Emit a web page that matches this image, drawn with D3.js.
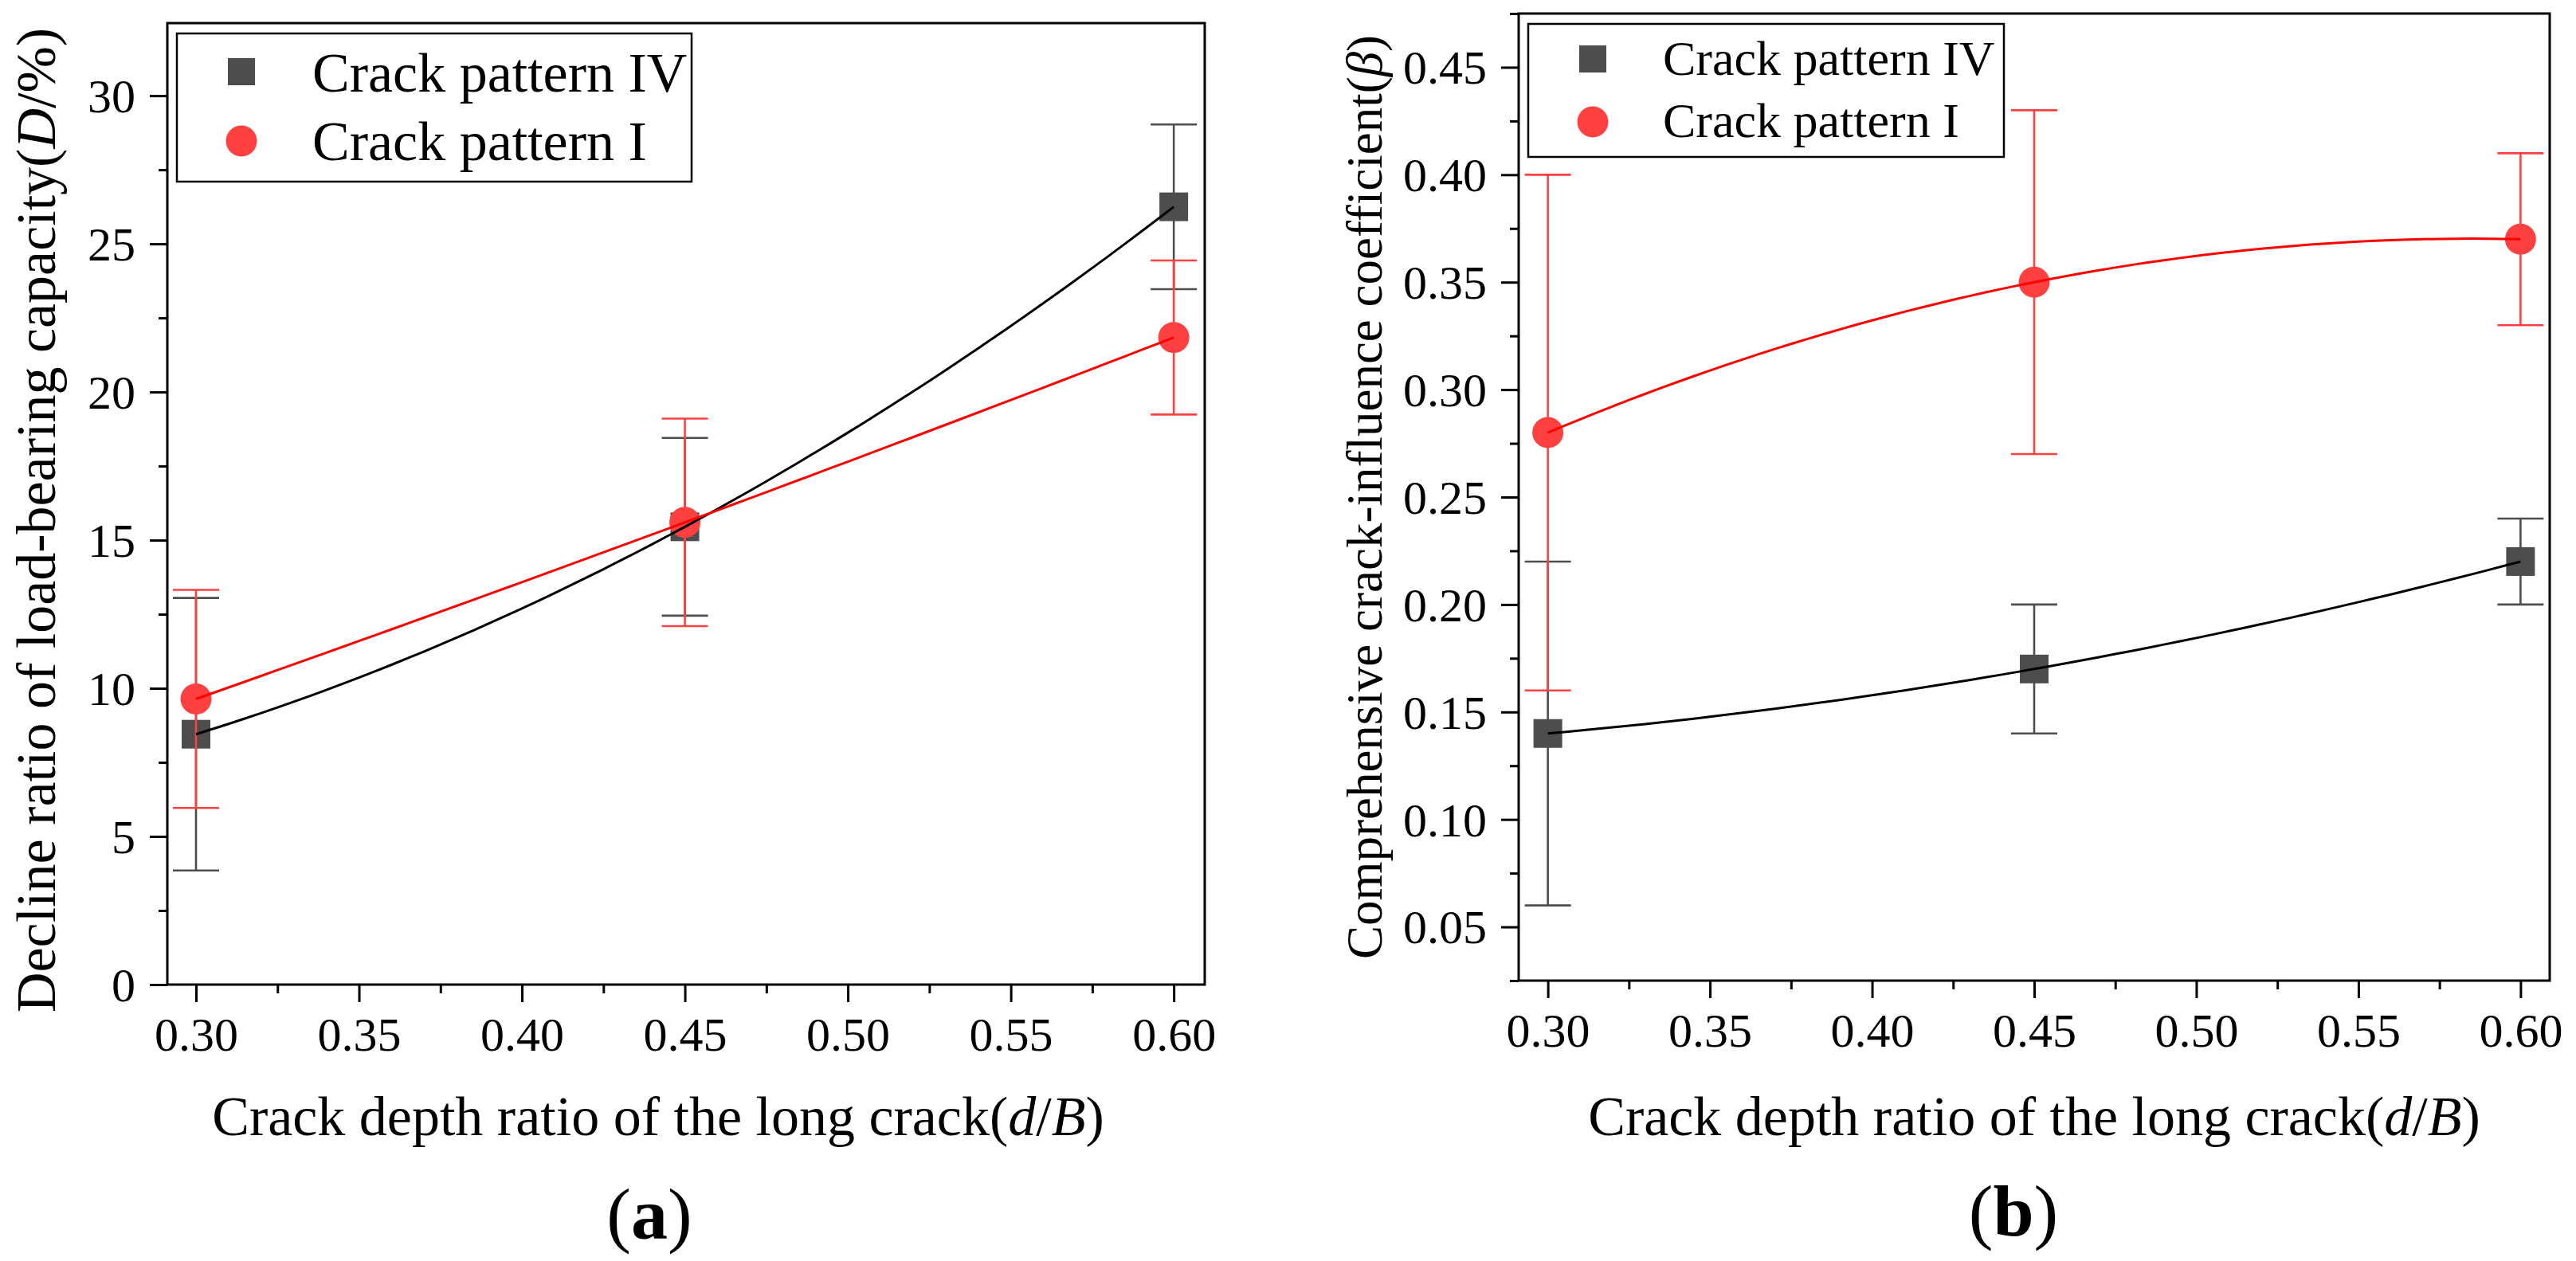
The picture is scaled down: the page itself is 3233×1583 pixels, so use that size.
<!DOCTYPE html>
<html>
<head>
<meta charset="utf-8">
<script src="https://cdn.jsdelivr.net/npm/d3@7"></script>
<style>
body { margin: 0; background: #fff; }
svg text { font-family: 'Liberation Serif', 'Times New Roman', Times, 'DejaVu Serif', serif !important; fill: #000; }
</style>
</head>
<body>
<div id="chart"></div>
<script>
// data
var depthRatio = [0.30, 0.45, 0.60];
var seriesNames = ['Crack pattern IV', 'Crack pattern I'];

var declineIV = [8.45, 15.45, 26.25];
var declineIVErr = [4.6, 3.0, 2.78];
var declineI = [9.64, 15.6, 21.84];
var declineIErr = [3.68, 3.5, 2.6];

var betaIV = [0.14, 0.17, 0.22];
var betaIVErr = [0.08, 0.03, 0.02];
var betaI = [0.28, 0.35, 0.37];
var betaIErr = [0.12, 0.08, 0.04];

var xTicks = [0.30, 0.35, 0.40, 0.45, 0.50, 0.55, 0.60];
var xMinor = [0.325, 0.375, 0.425, 0.475, 0.525, 0.575];
var declineTicks = [0, 5, 10, 15, 20, 25, 30];
var declineMinor = [2.5, 7.5, 12.5, 17.5, 22.5, 27.5];
var betaTicks = [0.05, 0.10, 0.15, 0.20, 0.25, 0.30, 0.35, 0.40, 0.45];
var betaMinor = [0.025, 0.075, 0.125, 0.175, 0.225, 0.275, 0.325, 0.375, 0.425, 0.475];

var grey = '#4d4d4d', red = '#ff4040';
var serif = "'Liberation Serif', 'Times New Roman', Times, 'DejaVu Serif', serif";

var svg = d3.select('#chart').append('svg')
    .attr('width', 3233).attr('height', 1583)
    .attr('font-family', serif)
    .style('display', 'block');

// 3-point quadratic (the fitted curve shown in the figure)
function quadFit(xs, ys) {
    return function (t) {
        var s = 0;
        for (var i = 0; i < 3; i++) {
            var l = 1;
            for (var j = 0; j < 3; j++) if (j != i) l *= (t - xs[j]) / (xs[i] - xs[j]);
            s += ys[i] * l;
        }
        return s;
    };
}

function panel(p) {
    var x = d3.scaleLinear().domain(p.xDomain).range([p.left, p.right]);
    var y = d3.scaleLinear().domain(p.yDomain).range([p.bottom, p.top]);
    var g = svg.append('g');

    // frame
    g.append('rect')
        .attr('x', p.left).attr('y', p.top)
        .attr('width', p.right - p.left).attr('height', p.bottom - p.top)
        .attr('fill', 'none').attr('stroke', '#000').attr('stroke-width', 3);

    // axes
    g.append('g').attr('transform', `translate(0,${p.bottom})`)
        .call(d3.axisBottom(x).tickValues(xTicks).tickSize(22).tickPadding(18).tickFormat(d3.format('.2f')));
    g.append('g').attr('transform', `translate(0,${p.bottom})`)
        .call(d3.axisBottom(x).tickValues(xMinor).tickSize(11).tickFormat(''));
    var yAx = g.append('g').attr('transform', `translate(${p.left},0)`)
        .call(d3.axisLeft(y).tickValues(p.yTicks).tickSize(22).tickPadding(18).tickFormat(p.yFormat));
    g.append('g').attr('transform', `translate(${p.left},0)`)
        .call(d3.axisLeft(y).tickValues(p.yMinor).tickSize(11).tickFormat(''));
    g.selectAll('.domain').remove();
    g.selectAll('.tick line').attr('stroke', '#000').attr('stroke-width', 3);
    g.selectAll('g').attr('font-family', serif).attr('font-size', 60);
    g.selectAll('.tick text').attr('fill', '#000').style('font-family', serif);
    yAx.selectAll('.tick text').attr('dy', '0.34em');

    // error bars and markers
    p.series.forEach(function (s) {
        depthRatio.forEach(function (d, i) {
            var cx = x(d), lo = y(s.values[i] - s.err[i]), hi = y(s.values[i] + s.err[i]);
            g.append('line').attr('x1', cx).attr('x2', cx).attr('y1', lo).attr('y2', hi)
                .attr('stroke', s.color).attr('stroke-width', 2.6);
            [lo, hi].forEach(function (yy) {
                g.append('line').attr('x1', cx - 29).attr('x2', cx + 29).attr('y1', yy).attr('y2', yy)
                    .attr('stroke', s.color).attr('stroke-width', 2.6);
            });
        });
        depthRatio.forEach(function (d, i) {
            if (s.shape == 'square') {
                g.append('rect').attr('x', x(d) - 18).attr('y', y(s.values[i]) - 18)
                    .attr('width', 36).attr('height', 36).attr('fill', s.color);
            } else {
                g.append('circle').attr('cx', x(d)).attr('cy', y(s.values[i])).attr('r', 19.5)
                    .attr('fill', s.color);
            }
        });
    });

    // fitted curves
    p.series.forEach(function (s) {
        var f = quadFit(depthRatio, s.values);
        var pts = d3.range(0.30, 0.6001, 0.005);
        g.append('path')
            .datum(pts)
            .attr('d', d3.line().x(function (t) { return x(t); }).y(function (t) { return y(f(t)); }))
            .attr('fill', 'none').attr('stroke', s.line).attr('stroke-width', 3);
    });

    // legend
    var L = p.legend;
    g.append('rect').attr('x', L.x).attr('y', L.y).attr('width', L.w).attr('height', L.h)
        .attr('fill', '#fff').attr('stroke', '#000').attr('stroke-width', 2.5);
    p.series.forEach(function (s, i) {
        var cy = L.rows[i];
        if (s.shape == 'square') {
            g.append('rect').attr('x', L.mx - 17).attr('y', cy - 17).attr('width', 34).attr('height', 34)
                .attr('fill', s.color);
        } else {
            g.append('circle').attr('cx', L.mx).attr('cy', cy).attr('r', 19.5).attr('fill', s.color);
        }
        g.append('text').attr('x', L.tx).attr('y', L.base[i]).attr('font-size', L.fs)
            .style('font-family', serif)
            .text(seriesNames[i]);
    });

    // x title
    var xt = g.append('text').attr('x', p.xTitleX).attr('y', 1425)
        .attr('text-anchor', 'middle').attr('font-size', 70).style('font-family', serif);
    xt.append('tspan').text('Crack depth ratio of the long crack(');
    xt.append('tspan').attr('font-style', 'italic').text('d');
    xt.append('tspan').text('/');
    xt.append('tspan').attr('font-style', 'italic').text('B');
    xt.append('tspan').text(')');

    // y title
    var yt = g.append('text')
        .attr('transform', `translate(${p.yTitle[0]},${p.yTitle[1]}) rotate(-90)`)
        .attr('text-anchor', 'middle').attr('font-size', p.yTitleSize).style('font-family', serif);
    p.yTitleParts.forEach(function (t) {
        yt.append('tspan').attr('font-style', t[1] ? 'italic' : null).text(t[0]);
    });

    // panel tag
    var tag = g.append('text').attr('x', p.tag[0]).attr('y', p.tag[1])
        .attr('text-anchor', 'middle').attr('font-size', 92).style('font-family', serif);
    tag.append('tspan').text('(');
    tag.append('tspan').attr('font-weight', 'bold').text(p.tagText);
    tag.append('tspan').text(')');
}

panel({
    left: 210, right: 1512, top: 29, bottom: 1236,
    xDomain: [0.2912, 0.6095], yDomain: [0, 32.45],
    yTicks: declineTicks, yMinor: declineMinor, yFormat: d3.format('d'),
    series: [
        { values: declineIV, err: declineIVErr, color: grey, line: '#000', shape: 'square' },
        { values: declineI, err: declineIErr, color: red, line: '#ff0000', shape: 'circle' }
    ],
    legend: { x: 222, y: 42, w: 646, h: 186, mx: 303, rows: [90, 177], tx: 392, base: [115, 201], fs: 70 },
    xTitleX: 826,
    yTitle: [69, 653], yTitleSize: 70,
    yTitleParts: [['Decline ratio of load-bearing capacity(', false], ['D', true], ['/%)', false]],
    tag: [815, 1555], tagText: 'a'
});

panel({
    left: 1906, right: 3200, top: 17, bottom: 1231,
    xDomain: [0.291, 0.609], yDomain: [0.025, 0.475],
    yTicks: betaTicks, yMinor: betaMinor, yFormat: d3.format('.2f'),
    series: [
        { values: betaIV, err: betaIVErr, color: grey, line: '#000', shape: 'square' },
        { values: betaI, err: betaIErr, color: red, line: '#ff0000', shape: 'circle' }
    ],
    legend: { x: 1918, y: 30, w: 597, h: 167, mx: 1999, rows: [74, 153], tx: 2087, base: [94, 172], fs: 62 },
    xTitleX: 2553,
    yTitle: [1734, 624], yTitleSize: 63,
    yTitleParts: [['Comprehensive crack-influence coefficient(', false], ['β', true], [')', false]],
    tag: [2527, 1551], tagText: 'b'
});
</script>
</body>
</html>
